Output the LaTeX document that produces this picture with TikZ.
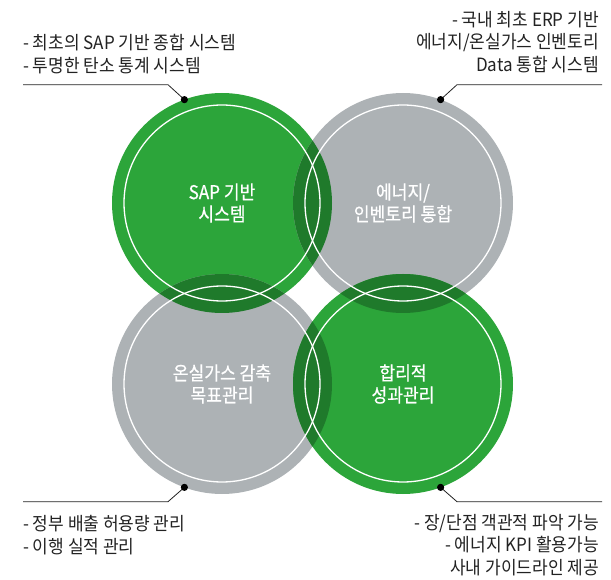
\documentclass[tikz,border=0pt]{standalone}
\usepackage{fontspec}
\newfontfamily\kr[FakeStretch=0.93]{Noto Sans CJK KR}
\newfontfamily\krc[FakeStretch=0.9,FakeBold=0.6]{Noto Sans CJK KR}
\definecolor{gr}{HTML}{2CA53A}
\definecolor{dg}{HTML}{1F7A2B}
\definecolor{gy}{HTML}{ADB2B5}
\definecolor{ink}{HTML}{222222}
\begin{document}
\begin{tikzpicture}[x=1pt,y=-1pt,
  lbl/.style={font=\kr\fontsize{18.3}{22.5}\selectfont, inner sep=0pt, text=ink},
  ctext/.style={font=\krc\fontsize{19}{22}\selectfont, inner sep=0pt, text=white, align=center},
  ring/.style={circle, minimum size=220pt, inner sep=0pt, outer sep=0pt},
  leader/.style={draw=ink, line width=0.8pt},
  dot/.style={fill=black}]
\useasboundingbox (0,0) rectangle (611,580);
\coordinate (A) at (222,203);
\coordinate (B) at (403,203);
\coordinate (C) at (222,384);
\coordinate (D) at (403,384);
% circles
\fill[gr] (A) circle[radius=110pt];
\fill[gy] (B) circle[radius=110pt];
\fill[gy] (C) circle[radius=110pt];
\fill[gr] (D) circle[radius=110pt];
\begin{scope}
  \clip (A) circle[radius=110pt];
  \fill[dg] (B) circle[radius=110pt];
  \fill[dg] (C) circle[radius=110pt];
\end{scope}
\begin{scope}
  \clip (D) circle[radius=110pt];
  \fill[dg] (B) circle[radius=110pt];
  \fill[dg] (C) circle[radius=110pt];
\end{scope}
\foreach \p in {A,B,C,D}{\draw[white, line width=1.3pt] (\p) circle[radius=98pt];}
\node[ring] (cA) at (A) {};
\node[ring] (cB) at (B) {};
\node[ring] (cC) at (C) {};
\node[ring] (cD) at (D) {};
% circle texts
\node[ctext] (tA) at (222,203) {SAP 기반\\시스템};
\node[ctext] (tB) at (403,203) {에너지/\\인벤토리 통합};
\node[ctext] (tC) at (222,384) {온실가스 감축\\목표관리};
\node[ctext] (tD) at (403,384) {합리적\\성과관리};
% leaders
\coordinate (eA) at (168,84.7);  \coordinate (fA) at (23,84.7);
\coordinate (eB) at (457,84.7);  \coordinate (fB) at (602,84.7);
\coordinate (eC) at (168,501.7); \coordinate (fC) at (23,501.7);
\coordinate (eD) at (457,501.7); \coordinate (fD) at (602,501.7);
\draw[leader] (cA.110) -- (eA) -- (fA);
\draw[leader] (cB.70) -- (eB) -- (fB);
\draw[leader] (cC.250) -- (eC) -- (fC);
\draw[leader] (cD.290) -- (eD) -- (fD);
\fill[dot] (cA.110) circle[radius=3.6pt];
\fill[dot] (cB.70) circle[radius=3.6pt];
\fill[dot] (cC.250) circle[radius=3.6pt];
\fill[dot] (cD.290) circle[radius=3.6pt];
% labels
\node[lbl, anchor=west, align=left] (lA) at (23,54) {- 최초의 SAP 기반 종합 시스템\\- 투명한 탄소 통계 시스템};
\node[lbl, anchor=east, align=right] (lB) at (599,42) {- 국내 최초 ERP 기반\\에너지/온실가스 인벤토리\\Data 통합 시스템};
\node[lbl, anchor=west, align=left] (lC) at (23,535) {- 정부 배출 허용량 관리\\- 이행 실적 관리};
\node[lbl, anchor=east, align=right] (lD) at (599,545) {- 장/단점 객관적 파악 가능\\- 에너지 KPI 활용가능\\사내 가이드라인 제공};
\end{tikzpicture}
\end{document}
